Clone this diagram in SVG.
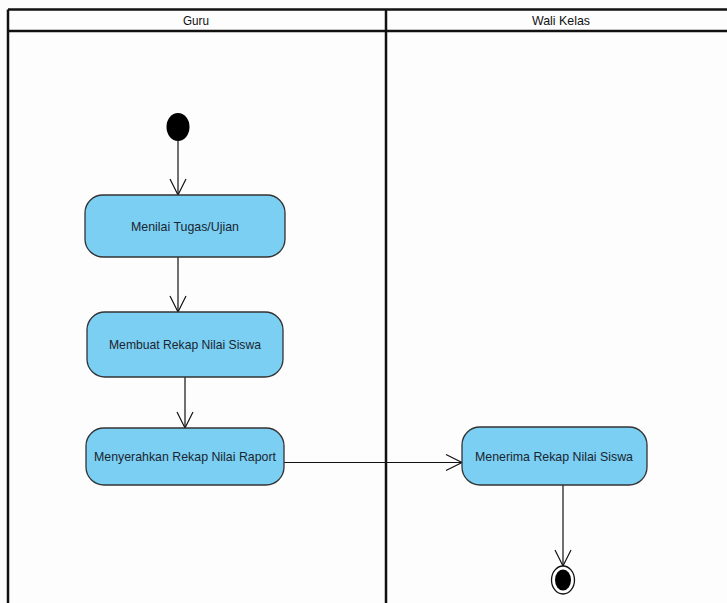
<svg xmlns="http://www.w3.org/2000/svg" width="727" height="603" viewBox="0 0 727 603">
<style>
.lane{stroke:#111;stroke-width:2.5;fill:none}
.lbl{font-family:"Liberation Sans",Arial,sans-serif;font-size:13px;fill:#111;text-anchor:middle}
.act{fill:#7ACFF3;stroke:#333;stroke-width:1.3}
.txt{font-family:"Liberation Sans",Arial,sans-serif;font-size:13.5px;fill:#1a2530;text-anchor:middle}
.conn{stroke:#111;stroke-width:1.2;fill:none}
</style>
<defs>
<marker id="open" viewBox="0 0 20 20" refX="18" refY="10" markerWidth="20" markerHeight="20" markerUnits="userSpaceOnUse" orient="auto">
<path d="M2,2 L18,10 L2,18" fill="none" stroke="#111" stroke-width="1.2"/>
</marker>
</defs>
<rect width="727" height="603" fill="#fdfdfd"/>
<g id="swimlanes">
<line class="lane" x1="8" y1="9.5" x2="727" y2="9.5"/>
<line class="lane" x1="8" y1="31" x2="727" y2="31"/>
<line class="lane" x1="8" y1="9.5" x2="8" y2="603"/>
<line class="lane" x1="386" y1="9.5" x2="386" y2="603"/>
<text class="lbl" x="196" y="25" textLength="26" lengthAdjust="spacingAndGlyphs">Guru</text>
<text class="lbl" x="561" y="25" textLength="58" lengthAdjust="spacingAndGlyphs">Wali Kelas</text>
</g>
<g id="connectors">
<line class="conn" x1="178" y1="141" x2="178" y2="195" marker-end="url(#open)"/>
<line class="conn" x1="178" y1="257" x2="178" y2="312" marker-end="url(#open)"/>
<line class="conn" x1="185" y1="377" x2="185" y2="428" marker-end="url(#open)"/>
<line class="conn" x1="284" y1="462.5" x2="462" y2="462.5" marker-end="url(#open)"/>
<line class="conn" x1="563" y1="485" x2="563" y2="566" marker-end="url(#open)"/>
</g>
<g id="start">
<ellipse cx="178" cy="127" rx="11.5" ry="14" fill="#000"/>
</g>
<g id="menilai">
<rect class="act" x="85" y="195" width="200" height="62" rx="18"/>
<text class="txt" x="185" y="231" textLength="108" lengthAdjust="spacingAndGlyphs">Menilai Tugas/Ujian</text>
</g>
<g id="membuat">
<rect class="act" x="87" y="312" width="196" height="65" rx="18"/>
<text class="txt" x="185" y="349" textLength="152" lengthAdjust="spacingAndGlyphs">Membuat Rekap Nilai Siswa</text>
</g>
<g id="menyerahkan">
<rect class="act" x="86" y="428" width="198" height="57" rx="18"/>
<text class="txt" x="185" y="461" textLength="182" lengthAdjust="spacingAndGlyphs">Menyerahkan Rekap Nilai Raport</text>
</g>
<g id="menerima">
<rect class="act" x="462" y="427" width="185" height="58" rx="18"/>
<text class="txt" x="554" y="461" textLength="158" lengthAdjust="spacingAndGlyphs">Menerima Rekap Nilai Siswa</text>
</g>
<g id="end">
<ellipse cx="563" cy="580" rx="11.5" ry="14" fill="#fff" stroke="#111" stroke-width="1.3"/>
<ellipse cx="563" cy="580" rx="8" ry="10.5" fill="#000"/>
</g>
</svg>
